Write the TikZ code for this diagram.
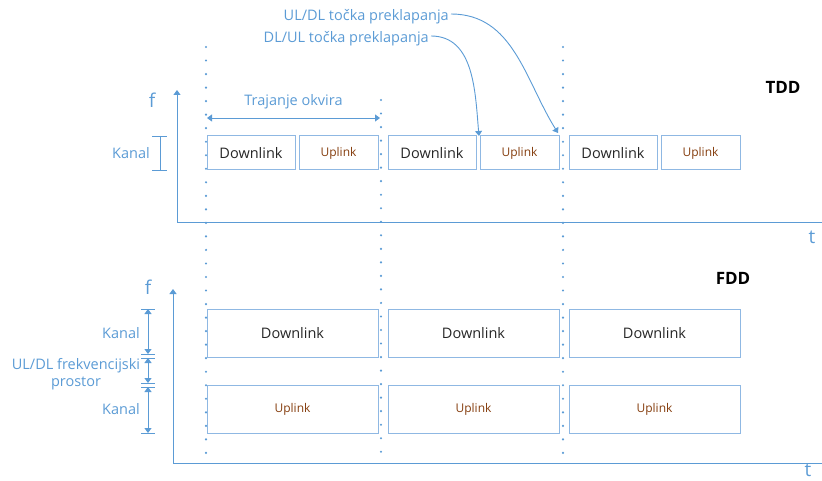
\documentclass[tikz,border=0pt]{standalone}
\usepackage{fontspec}
\setmainfont{Open Sans}
\usetikzlibrary{positioning,arrows.meta}
\definecolor{lineblue}{HTML}{5B9BD5}
\definecolor{boxblue}{HTML}{8FB8E3}
\definecolor{upbrown}{HTML}{843C0C}
\definecolor{downgray}{HTML}{262626}
\tikzset{
  slot/.style={draw=boxblue, line width=1pt, inner sep=0pt, outer sep=0pt, minimum height=34pt},
  dlslot/.style={slot, minimum width=88pt, text=downgray, font=\fontsize{14.5}{16}\selectfont},
  ulslot/.style={slot, minimum width=79pt, text=upbrown, font=\fontsize{12}{14}\selectfont},
  axis/.style={draw=lineblue, line width=0.9pt},
  tip/.style={-{Triangle[width=7pt,length=5pt]}},
  dim/.style={axis, {Triangle[width=7pt,length=5pt]}-{Triangle[width=7pt,length=5pt]}},
  lbl/.style={text=lineblue, font=\fontsize{14.5}{17}\selectfont, inner sep=0pt},
  axlbl/.style={text=lineblue, font=\fontsize{19}{20}\selectfont, inner sep=0pt},
  title/.style={font=\fontsize{17}{19}\selectfont\bfseries, inner sep=0pt},
  dotline/.style={lineblue, line width=2.4pt, line cap=round, dash pattern=on 0pt off 13.53pt}
}
\begin{document}
\begin{tikzpicture}[x=1pt,y=-1pt]
\useasboundingbox (0,0) rectangle (822,481);
% frame borders
\draw[dotline] (206,47) -- (206,453.5);
\draw[dotline] (381,100) -- (381,451.8);
\draw[dotline] (563,47) -- (563,453.5);

% TDD
\draw[axis,tip] (822,222) -- (177,222) -- (177,90);
\node[axlbl] (f1) at (152,100) {f};
\node[axlbl] (t1) at (812,237) {t};
\node[title] (tdd) at (783,87) {TDD};
\node[dlslot, anchor=north west] (d1) at (207,136) {Downlink};
\node[ulslot] (u1) [right=4pt of d1] {Uplink};
\node[dlslot] (d2) [right=10pt of u1] {Downlink};
\node[ulslot] (u2) [right=4pt of d2] {Uplink};
\node[dlslot] (d3) [right=10pt of u2] {Downlink};
\node[ulslot] (u3) [right=4pt of d3] {Uplink};
\coordinate (fa) at (207,118);
\coordinate (fb) at (380,118);
\draw[dim] (fa) -- node[lbl, above=9pt] (okvir) {Trajanje okvira} (fb);
\coordinate (ka) at (160,136);
\coordinate (kb) at (160,170);
\draw[axis] (ka) -- (kb) ([xshift=-8pt]ka) -- ([xshift=7pt]ka) ([xshift=-8pt]kb) -- ([xshift=7pt]kb);
\node[lbl, left=10pt of ka, yshift=-17pt] (kanal) {Kanal};
\node[lbl, anchor=east] (uldl) at (449,17) {UL/DL točka preklapanja};
\node[lbl, anchor=east] (dlul) at (429,39) {DL/UL točka preklapanja};
\coordinate (sw1) at (479,136);
\coordinate (sw2) at (558,133);
\draw[axis,tip] ([xshift=2pt,yshift=3pt]dlul.east) to[out=0,in=95] (sw1);
\draw[axis,tip] ([xshift=2pt,yshift=3pt]uldl.east) to[out=0,in=122] (sw2);

% FDD
\draw[axis,tip] (822,463) -- (173,463) -- (173,289);
\node[axlbl] (f2) at (148,287) {f};
\node[axlbl] (t2) at (808,470) {t};
\node[title] (fdd) at (733,278) {FDD};
\node[dlslot, minimum width=171pt, minimum height=48pt, anchor=north west] (fd1) at (207,309) {Downlink};
\node[dlslot, minimum width=171pt, minimum height=48pt] (fd2) [right=10pt of fd1] {Downlink};
\node[dlslot, minimum width=171pt, minimum height=48pt] (fd3) [right=10pt of fd2] {Downlink};
\node[ulslot, minimum width=171pt, minimum height=48pt, anchor=north west] (fu1) at (207,385) {Uplink};
\node[ulslot, minimum width=171pt, minimum height=48pt] (fu2) [right=10pt of fu1] {Uplink};
\node[ulslot, minimum width=171pt, minimum height=48pt] (fu3) [right=10pt of fu2] {Uplink};
\coordinate (c1) at (148,309);
\coordinate (c2) at (148,354);
\coordinate (c3) at (148,358);
\coordinate (c4) at (148,383);
\coordinate (c5) at (148,387);
\coordinate (c6) at (148,433);
\draw[dim] (c1) -- (c2);
\draw[dim] (c3) -- (c4);
\draw[dim] (c5) -- (c6);
\foreach \c in {c1,c2,c3,c4,c5,c6}
  \draw[axis] ([xshift=-7pt]\c) -- ([xshift=7pt]\c);
\node[lbl] (kanal2) at (121,333) {Kanal};
\node[lbl, align=center] (prostor) at (76,374.5) {UL/DL frekvencijski\\prostor};
\node[lbl] (kanal3) at (121,409) {Kanal};
\end{tikzpicture}
\end{document}
